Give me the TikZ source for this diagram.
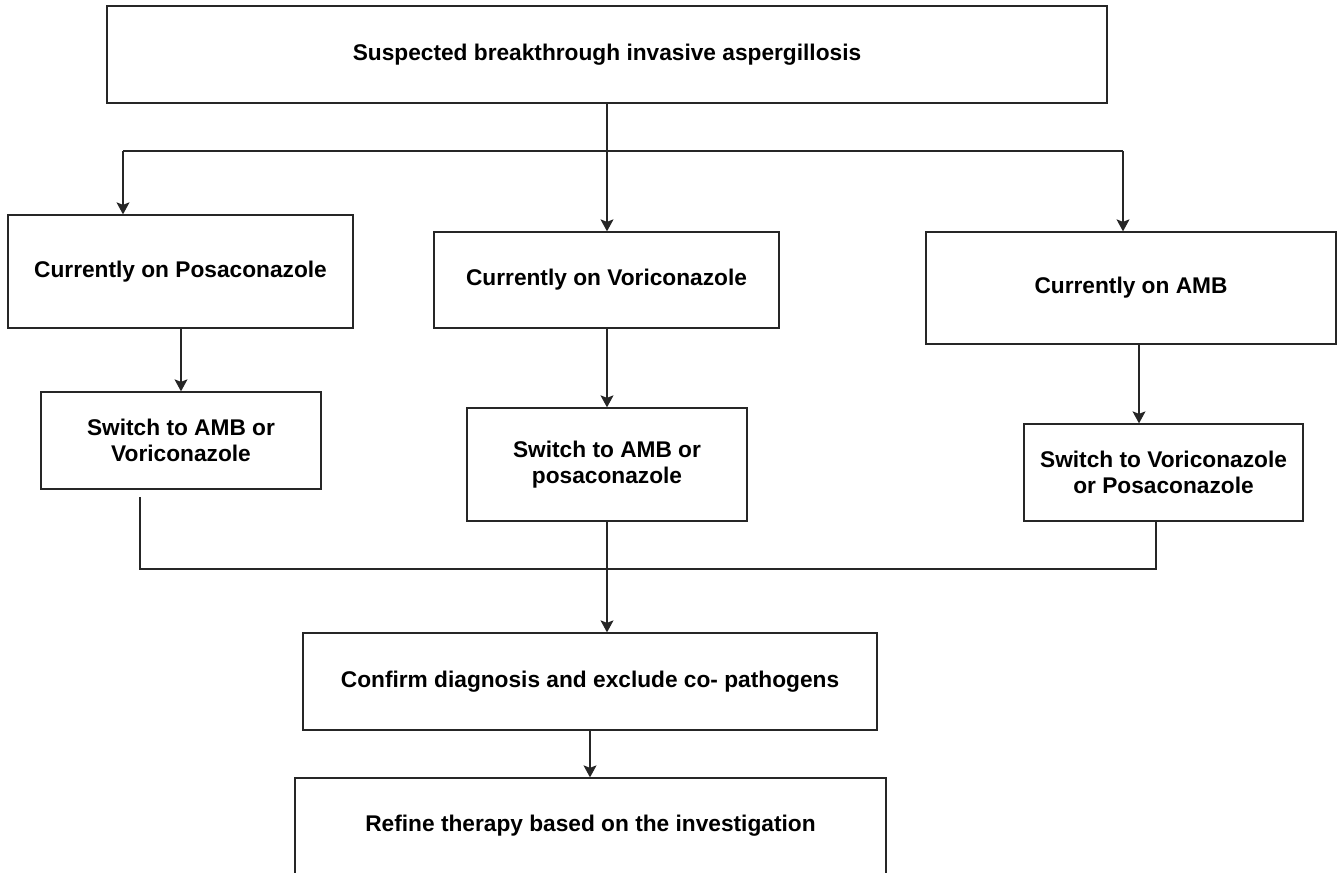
\documentclass[tikz,border=0pt]{standalone}
\usepackage{fontspec}
\setmainfont{Liberation Sans}
\usepackage{tikz}
\usetikzlibrary{arrows.meta}
\tikzstyle{flowbox}=[draw=black!85,line width=1.3pt,rectangle,align=center,inner sep=0pt,font=\fontsize{22.7}{26}\selectfont\bfseries]
\tikzstyle{flowline}=[draw=black!85,line width=1.3pt]
\tikzstyle{flowarrow}=[flowline,-{Stealth[length=12pt,width=13pt,inset=2.5pt]}]
\newcommand{\pxunit}{1pt}

\begin{document}
\begin{tikzpicture}[x=\pxunit,y=-\pxunit]
    \useasboundingbox (0,0) rectangle (1337,872);
    \node[flowbox,minimum width=1000,minimum height=97] (s) at (607,54.5) {Suspected breakthrough invasive aspergillosis};
    \node[flowbox,minimum width=345,minimum height=113] (c1) at (180.5,271.5) {Currently on Posaconazole};
    \node[flowbox,minimum width=345,minimum height=96]  (c2) at (606.5,280)   {Currently on Voriconazole};
    \node[flowbox,minimum width=410,minimum height=112] (c3) at (1131,288)    {Currently on AMB};
    \node[flowbox,minimum width=280,minimum height=97]  (w1) at (181,440.5)   {Switch to AMB or\\Voriconazole};
    \node[flowbox,minimum width=280,minimum height=113] (w2) at (607,464.5)   {Switch to AMB or\\posaconazole};
    \node[flowbox,minimum width=279,minimum height=97]  (w3) at (1163.5,472.5) {Switch to Voriconazole\\or Posaconazole};
    \node[flowbox,minimum width=574,minimum height=97]  (d)  at (590,681.5)   {Confirm diagnosis and exclude co- pathogens};
    \node[flowbox,minimum width=591,minimum height=96]  (r)  at (590.5,826)   {Refine therapy based on the investigation};
    % split
    \coordinate (jl) at (123,151);
    \coordinate (jm) at (607,151);
    \coordinate (jr) at (1123,151);
    \draw[flowline] (s.south) -- (jm);
    \draw[flowline] (jl) -- (jr);
    \draw[flowarrow] (jl) -- (jl |- c1.north);
    \draw[flowarrow] (jm) -- (jm |- c2.north);
    \draw[flowarrow] (jr) -- (jr |- c3.north);
    \draw[flowarrow] (w1.north |- c1.south) -- (w1.north);
    \draw[flowarrow] (w2.north |- c2.south) -- (w2.north);
    \draw[flowarrow] ([xshift=8]c3.south) -- ([xshift=8]c3.south |- w3.north);
    % merge
    \coordinate (bl) at (140,497);
    \coordinate (br) at (1156,569);
    \draw[flowline] (bl) |- (br) -- (br |- w3.south);
    \draw[flowarrow] (w2.south) -- (w2.south |- d.north);
    \draw[flowarrow] (d.south) -- (d.south |- r.north);
\end{tikzpicture}
\end{document}
